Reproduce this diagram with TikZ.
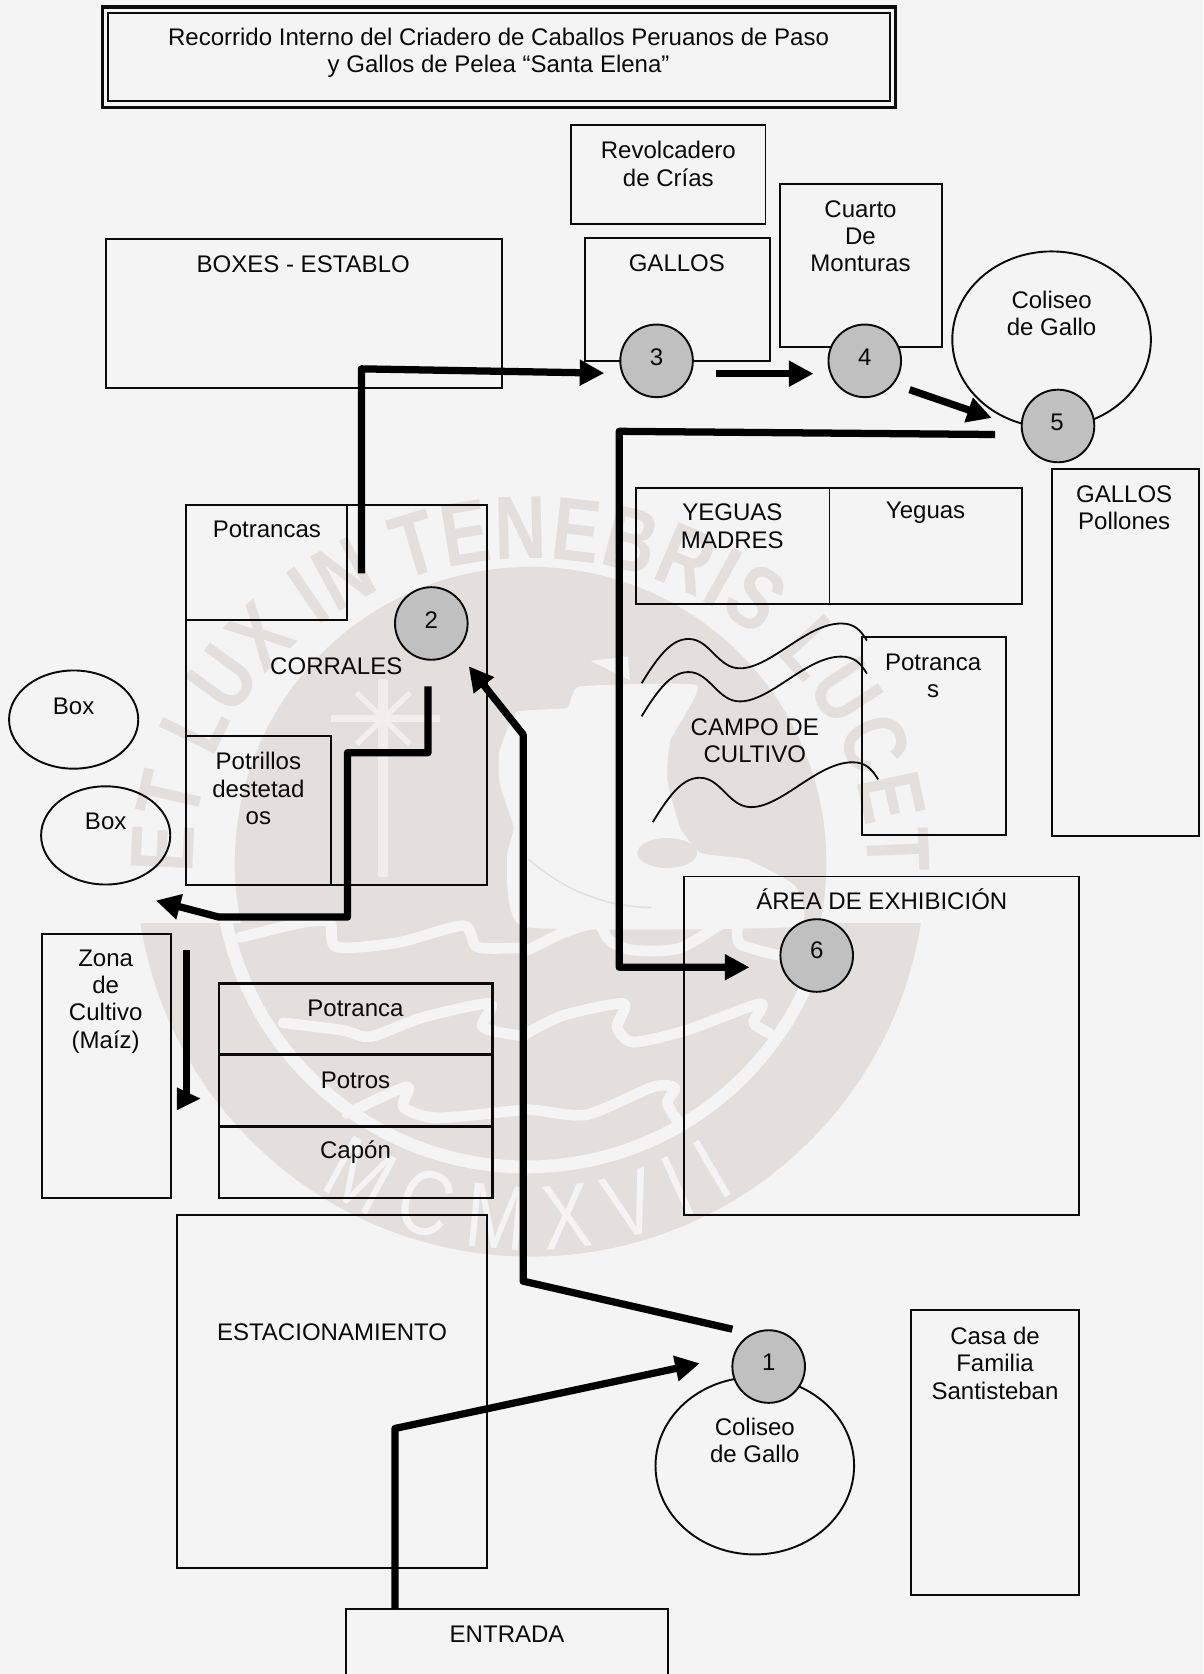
\documentclass[tikz,border=0pt]{standalone}
\usepackage{fontspec}
\setmainfont{Liberation Sans}
\newfontfamily\wmfont[FakeStretch=0.8]{Liberation Sans}
\usetikzlibrary{shapes.geometric,arrows.meta,decorations.text}
\definecolor{bgc}{HTML}{F4F4F4}
\definecolor{wm}{HTML}{E3DFDC}
\definecolor{ink}{HTML}{0A0A0A}
\definecolor{disc}{HTML}{C0C0C0}
\tikzset{
  boxn/.style={draw=ink,line width=1.8pt,inner sep=0pt,outer sep=0pt,rectangle},
  elln/.style={draw=ink,line width=1.8pt,inner sep=0pt,outer sep=0pt,ellipse},
  stopn/.style={draw=ink,line width=1.8pt,fill=disc,circle,minimum size=68pt,inner sep=0pt,outer sep=0pt},
  lab/.style={text=ink,align=center,inner sep=0pt,font=\fontsize{22.5}{25.5}\selectfont},
  route/.style={draw=black,line width=6.8pt,line join=round},
  routea/.style={route,-{Triangle[length=23pt,width=23pt]}},
  wave/.style={draw=ink,line width=1.7pt},
  wmband/.style={draw=bgc,line width=10pt,line cap=round,line join=round}
}
\newcommand{\bxn}[5]{\node[boxn,minimum width={(#4-#2)*1pt},minimum height={(#5-#3)*1pt}] (#1) at ({(#2+#4)/2},{(#3+#5)/2}) {};}
\newcommand{\eln}[5]{\node[elln,minimum width={2*#4*1pt},minimum height={2*#5*1pt}] (#1) at (#2,#3) {};}
\newcommand{\txn}[4]{\node[lab] (#1) at (#2,#3) {#4};}
\begin{document}
\begin{tikzpicture}[x=1pt,y=-1pt]
\useasboundingbox (0,0) rectangle (1126.9,1568);
\fill[bgc] (0,0) rectangle (1126.9,1568);
% watermark seal
\begin{scope}
\clip (0,865) rectangle (1127,1568);
\fill[wm] (497,807) circle[radius=370pt];
\draw[bgc,line width=12pt] (493,806) circle[radius=287pt];
\end{scope}
\fill[wm] (497,808) circle[radius=277pt];
\path[decorate,decoration={text along path,text align={fit to path},
  text={|\fontsize{84}{84}\wmfont\bfseries\color{wm}|ET LUX IN TENEBRIS LUCET}}]
  ({497+316*cos(178)},{808+285*sin(178)}) arc[start angle=178,end angle=362,x radius=316,y radius=285];
\path[decorate,decoration={text along path,text align={fit to path},
  text={|\fontsize{86}{86}\wmfont\color{bgc}|MCMXVII}}]
  ({497+364*cos(123)},{807+364*sin(123)}) arc[start angle=123,end angle=58,radius=364];
% centre of the seal
\fill[bgc] plot[smooth cycle,tension=.25] coordinates {(484,667) (531,663) (543,643) (653,642) (628,693) (625,731) (637,775) (656,799) (700,805) (745,830) (745,868) (490,868) (475,803) (481,775) (468,734) (468,703)};
\fill[wm] (625,799) ellipse[x radius=28pt,y radius=14pt];
\fill[bgc] (553,619) -- (588,615) -- (590,637) -- cycle;
\draw[wm,line width=1.5pt] (495,805) .. controls (530,835) and (570,850) .. (610,850);
\draw[bgc!70!wm,line width=9pt] (359,636) -- (359,821);
\draw[bgc!80!wm,line width=7pt] (310,673) -- (412,673);
\draw[bgc!80!wm,line width=5pt] (334,649) -- (384,697) (384,649) -- (334,697);
\draw[wmband] plot[smooth,tension=.45] coordinates {(225,878) (284,864) (309,864) (315,887) (372,883) (434,867) (447,887) (487,888) (493.5,890) (527,874) (559,865) (571,881) (593,890) (637,888) (687,860) (693,884) (731,895)};
\draw[wmband] plot[smooth,tension=.45] coordinates {(265,958) (321,965) (347,971) (396,953) (459,940) (452,962) (487,970) (493,968) (528,951) (584,940) (578,962) (593,976) (643,965) (712,940) (706,958) (721,968)};
\draw[wmband] plot[smooth,tension=.45] coordinates {(325,1043) (381,1018) (378,1037) (409,1047) (487,1040) (503,1040) (550,1044) (612,1018) (632,1019) (625,1033) (634,1049)};
% title
\node[boxn,line width=3pt,minimum width=743pt,minimum height=94pt] (titleo) at (467.5,53.5) {};
\bxn{titlei}{101.5}{12}{833.7}{95}
\txn{titlet}{467}{49.5}{Recorrido Interno del Criadero de Caballos Peruanos de Paso\\y Gallos de Pelea “Santa Elena”}
% boxes
\bxn{revol}{535}{117}{717}{210}
\txn{revolt}{626}{153.5}{Revolcadero\\de Crías}
\bxn{gallos}{548}{223}{721}{338}
\txn{gallost}{634}{246.5}{GALLOS}
\bxn{cuarto}{731}{172}{882}{325}
\txn{cuartot}{806}{221.5}{Cuarto\\De\\Monturas}
\bxn{boxes}{99}{224}{470}{363}
\txn{boxest}{284}{247.5}{BOXES - ESTABLO}
\eln{colA}{985}{318}{93}{82.5}
\txn{colAt}{985}{293.5}{Coliseo\\de Gallo}
\bxn{pollones}{985}{439}{1123}{783}
\txn{pollonest}{1053}{475.5}{GALLOS\\Pollones}
\bxn{yeguasm}{596}{457}{777}{566}
\bxn{yeguas}{777}{457}{957}{566}
\txn{yeguasmt}{686}{493}{YEGUAS\\MADRES}
\txn{yeguast}{867}{480.5}{Yeguas}
\bxn{corrales}{174}{473}{456}{829}
\bxn{potrancasb}{174}{473}{325}{581}
\txn{potrancast}{250}{495.5}{Potrancas}
\txn{corralest}{315}{624.5}{CORRALES}
\bxn{potrillos}{174}{689}{310}{829}
\txn{potrillost}{242}{738.5}{Potrillos\\destetad\\os}
\eln{boxa}{69}{674}{60.5}{46}
\txn{boxat}{69}{661.5}{Box}
\eln{boxb}{99}{782.5}{60.5}{46}
\txn{boxbt}{99}{769.5}{Box}
\bxn{potr}{807}{597}{942}{782}
\txn{potrt}{874}{633}{Potranca\\s}
\txn{campo}{707}{693.5}{CAMPO DE\\CULTIVO}
\foreach \dx/\dy in {0/0,0/31,10.5/130}{
  \draw[wave,shift={(\dx,\dy)}] (601,640) .. controls (618,612) and (630,598.5) .. (645,598.5) .. controls (665,598.5) and (672,626) .. (693,626) .. controls (722,626) and (755,584) .. (788,584) .. controls (800,584) and (806,590) .. (812,600);
}
\bxn{zona}{39}{875}{160}{1122}
\txn{zonat}{99}{938}{Zona\\de\\Cultivo\\(Maíz)}
\begin{scope}[boxn/.append style={line width=2.5pt}]
\bxn{sta}{205}{921}{461}{988}
\bxn{stb}{205}{988}{461}{1055}
\bxn{stc}{205}{1055}{461}{1122}
\end{scope}
\txn{stat}{333}{944.5}{Potranca}
\txn{stbt}{333}{1011.5}{Potros}
\txn{stct}{333}{1079}{Capón}
\bxn{area}{641}{821}{1011}{1138}
\txn{areat}{826}{842}{ÁREA DE EXHIBICIÓN}
\bxn{estac}{166}{1138}{456}{1469}
\txn{estact}{311}{1247.5}{ESTACIONAMIENTO}
\bxn{casa}{853}{1227}{1011}{1494}
\txn{casat}{932}{1277}{Casa de\\Familia\\Santisteban}
\eln{colB}{707}{1373}{93}{83}
\txn{colBt}{707}{1349}{Coliseo\\de Gallo}
\bxn{entrada}{324}{1507}{626}{1575}
\txn{entradat}{475}{1530.5}{ENTRADA}
% stops
\node[stopn] (s1) at (720,1280) {};
\txn{s1t}{720}{1275.5}{1}
\node[stopn] (s2) at (404,584) {};
\txn{s2t}{404}{580.5}{2}
\node[stopn] (s3) at (615,338) {};
\txn{s3t}{615}{334.5}{3}
\node[stopn] (s4) at (810,338) {};
\txn{s4t}{810}{334.5}{4}
\node[stopn] (s5) at (991,399) {};
\txn{s5t}{990}{395.5}{5}
\node[stopn] (s6) at (765,895) {};
\txn{s6t}{765}{890.5}{6}
% routes
\coordinate (a0) at (370,1507); \coordinate (a1) at (370,1338); \coordinate (a2) at (655.5,1277);
\draw[routea] (a0) -- (a1) -- (a2);
\coordinate (b0) at (686,1245); \coordinate (b1) at (490,1200); \coordinate (b2) at (490,688); \coordinate (b3) at (439,624);
\draw[routea] (b0) -- (b1) -- (b2) -- (b3);
\coordinate (c0) at (401,643); \coordinate (c1) at (401,705); \coordinate (c2) at (325.5,705); \coordinate (c3) at (325.5,859); \coordinate (c4) at (205,859); \coordinate (c5) at (146,843.5);
\draw[routea] (c0) -- (c1) -- (c2) -- (c3) -- (c4) -- (c5);
\coordinate (d0) at (174.5,890); \coordinate (d1) at (174.5,1028);
\draw[route] (d0) -- (d1);
\coordinate (dh1) at (165.6,1018.5); \coordinate (dh2) at (165.6,1040); \coordinate (dh3) at (187.6,1029);
\fill[black] (dh1) -- (dh3) -- (dh2) -- cycle;
\coordinate (e0) at (338.5,537); \coordinate (e1) at (338.5,345.5); \coordinate (e2) at (566,349.5);
\draw[routea] (e0) -- (e1) -- (e2);
\coordinate (f0) at (671,350); \coordinate (f1) at (762,350);
\draw[routea] (f0) -- (f1);
\coordinate (g0) at (852,365); \coordinate (g1) at (929,391.5);
\draw[routea] (g0) -- (g1);
\coordinate (h0) at (932,407); \coordinate (h1) at (580,404); \coordinate (h2) at (580,906); \coordinate (h3) at (702,906);
\draw[routea] (h0) -- (h1) -- (h2) -- (h3);
\end{tikzpicture}
\end{document}
